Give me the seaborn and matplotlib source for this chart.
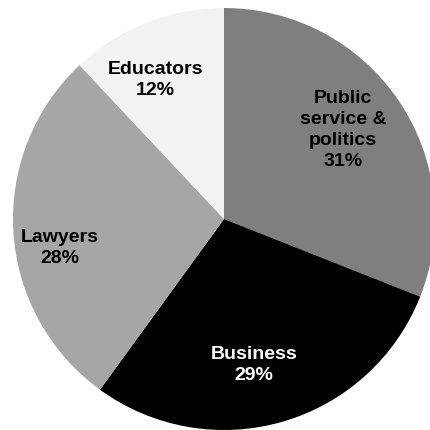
import matplotlib
matplotlib.use("Agg")
import matplotlib.pyplot as plt
import seaborn as sns

# Career shares, clockwise from 12 o'clock
categories = ["Public\nservice &\npolitics", "Business", "Lawyers", "Educators"]
shares = [31, 29, 28, 12]
slice_colors = ["#7f7f7f", "#000000", "#a6a6a6", "#f2f2f2"]
text_colors = ["black", "white", "black", "black"]

sns.set_style("white")
plt.rcParams["font.family"] = ["Liberation Sans", "DejaVu Sans"]

W, H = 430, 431
fig = plt.figure(figsize=(W / 100, H / 100), dpi=100)
ax = fig.add_axes([0, 0, 1, 1])

# pie centre and radius in pixels
cx, cy, r = 224, 220, 211

wedges, _ = ax.pie(shares, colors=slice_colors, startangle=90,
                   counterclock=False, radius=1, center=(0, 0),
                   wedgeprops=dict(linewidth=0))
ax.set_aspect("auto")
ax.set_xlim(-cx / r, (W - cx) / r)
ax.set_ylim(-(H - cy) / r, cy / r)
ax.axis("off")

# label anchor points inside each slice
label_pos = [(0.564, 0.427), (0.142, -0.687), (-0.777, -0.133), (-0.327, 0.664)]
for name, val, (x, y), tc in zip(categories, shares, label_pos, text_colors):
    ax.text(x, y, f"{name}\n{val}%", ha="center", va="center",
            fontsize=14, fontweight="bold", color=tc, linespacing=1.3)

fig.savefig("out.png", dpi=100, facecolor="white")
